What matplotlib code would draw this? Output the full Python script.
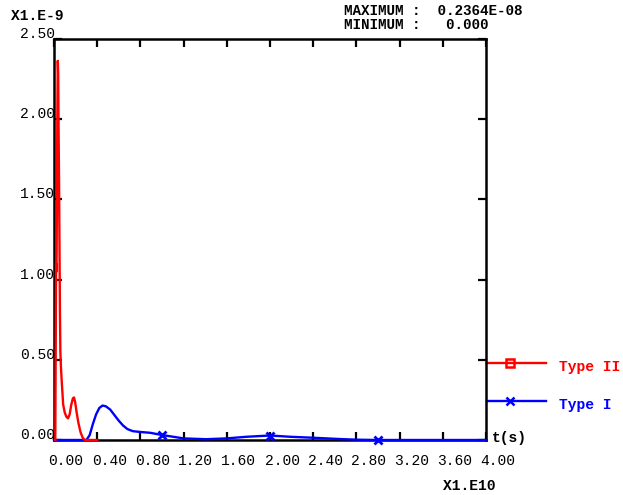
import matplotlib
matplotlib.use("Agg")
import matplotlib.pyplot as plt
from matplotlib.lines import Line2D
from matplotlib.transforms import ScaledTranslation

# Time axis in units of 1e10 s, signal in units of 1e-9
type2_t = [0.012, 0.016, 0.019, 0.023, 0.027, 0.031, 0.035, 0.039,
           0.043, 0.047, 0.051, 0.055, 0.059, 0.064, 0.072, 0.085, 0.10,
           0.115, 0.13, 0.145, 0.16, 0.175, 0.185, 0.195, 0.21, 0.225,
           0.245, 0.265, 0.285, 0.30, 0.35, 0.40]
type2_v = [0.0, 0.6, 1.10, 1.05, 1.45, 2.05, 2.364, 2.28,
           1.90, 1.60, 1.20, 0.80, 0.55, 0.46, 0.36, 0.22, 0.17,
           0.145, 0.135, 0.16, 0.22, 0.26, 0.265, 0.24, 0.17, 0.11,
           0.05, 0.015, 0.0, 0.0, 0.0, 0.0]

type1_t = [0.0, 0.30, 0.33, 0.36, 0.39, 0.42, 0.45, 0.48, 0.52, 0.56,
           0.60, 0.64, 0.68, 0.73, 0.80, 0.89, 1.0, 1.2, 1.41, 1.6, 1.78,
           2.0, 2.19, 2.4, 2.65, 2.8, 3.0, 4.0]
type1_v = [0.0, 0.0, 0.03, 0.10, 0.16, 0.20, 0.215, 0.21, 0.19, 0.155,
           0.12, 0.09, 0.068, 0.055, 0.05, 0.045, 0.031, 0.01, 0.005, 0.01,
           0.02, 0.028, 0.02, 0.014, 0.006, 0.002, 0.0, 0.0]
type1_marks = [1.0, 2.0, 3.0]

x_ticks = [0.0, 0.4, 0.8, 1.2, 1.6, 2.0, 2.4, 2.8, 3.2, 3.6, 4.0]
x_labels = ["0.00", "0.40", "0.80", "1.20", "1.60", "2.00",
            "2.40", "2.80", "3.20", "3.60", "4.00"]
y_ticks = [0.0, 0.5, 1.0, 1.5, 2.0, 2.5]
y_labels = ["0.00", "0.50", "1.00", "1.50", "2.00", "2.50"]

max_text = "MAXIMUM :  0.2364E-08"
min_text = "MINIMUM :   0.000"
series_names = ["Type II", "Type I"]

RED = "#ff0000"
BLUE = "#0000ff"
MONO = "Liberation Mono"
FS = 10.5

W, H = 623, 495
fig = plt.figure(figsize=(W / 100, H / 100), dpi=100)
L, R, T, B = 54, 486, 39, 440
ax = fig.add_axes([L / W, 1 - B / H, (R - L) / W, (B - T) / H])

ax.plot(type1_t, type1_v, color=BLUE, lw=1.7, clip_on=False, zorder=3)
ax.plot(type2_t, type2_v, color=RED, lw=1.7, clip_on=False, zorder=4)
mark_v = [type1_v[type1_t.index(m)] for m in type1_marks]
ax.plot(type1_marks, mark_v, ls="none", marker="x", color=BLUE,
        ms=6, mew=2, clip_on=False, zorder=5)

ax.set_xlim(0, 4.0)
ax.set_ylim(0, 2.5)
for s in ax.spines.values():
    s.set_linewidth(1.8)
    s.set_color("black")

ax.set_xticks(x_ticks)
ax.set_yticks(y_ticks)
ax.tick_params(direction="in", length=6, width=1.6, top=True, right=True,
               labelbottom=False, labelleft=False)

# tick labels, drawn as text offset from the tick positions
xoff = ax.get_xaxis_transform() + ScaledTranslation(12 / 100, -21 / 100, fig.dpi_scale_trans)
for t, lab in zip(x_ticks, x_labels):
    ax.text(t, 0, lab, transform=xoff, ha="center", va="center",
            family=MONO, fontsize=FS, color="black")
yoff = ax.get_yaxis_transform() + ScaledTranslation(1 / 100, 5 / 100, fig.dpi_scale_trans)
for v, lab in zip(y_ticks, y_labels):
    ax.text(0, v, lab, transform=yoff, ha="right", va="center",
            family=MONO, fontsize=FS, color="black", zorder=6)

# header texts
fig.text(11 / W, 1 - 16 / H, "X1.E-9", family=MONO, fontsize=FS,
         weight="bold", ha="left", va="center")
fig.text(344 / W, 1 - 11 / H, max_text, family=MONO, fontsize=10.3,
         weight="bold", ha="left", va="center")
fig.text(344 / W, 1 - 25 / H, min_text, family=MONO, fontsize=10.3,
         weight="bold", ha="left", va="center")
fig.text(443 / W, 1 - 486 / H, "X1.E10", family=MONO, fontsize=FS,
         weight="bold", ha="left", va="center")
fig.text(492 / W, 1 - 438 / H, "t(s)", family=MONO, fontsize=FS,
         weight="bold", ha="left", va="center")

# legend entries beside the plot
def fx(px):
    return (px - L) / (R - L)

def fy(py):
    return (B - py) / (B - T)

for name, col, mk, ly, ty in [(series_names[0], RED, "s", 363, 367),
                              (series_names[1], BLUE, "x", 401, 405)]:
    ax.add_line(Line2D([fx(487), fx(546)], [fy(ly), fy(ly)], color=col,
                       lw=1.7, transform=ax.transAxes, clip_on=False))
    ax.add_line(Line2D([fx(510)], [fy(ly)], marker=mk, color=col, ms=6,
                       mew=1.8, mfc="none", transform=ax.transAxes,
                       clip_on=False))
    ax.text(fx(559), fy(ty), name, transform=ax.transAxes, family=MONO,
            fontsize=FS, weight="bold", color=col, ha="left", va="center")

fig.savefig("out.png", dpi=100)
